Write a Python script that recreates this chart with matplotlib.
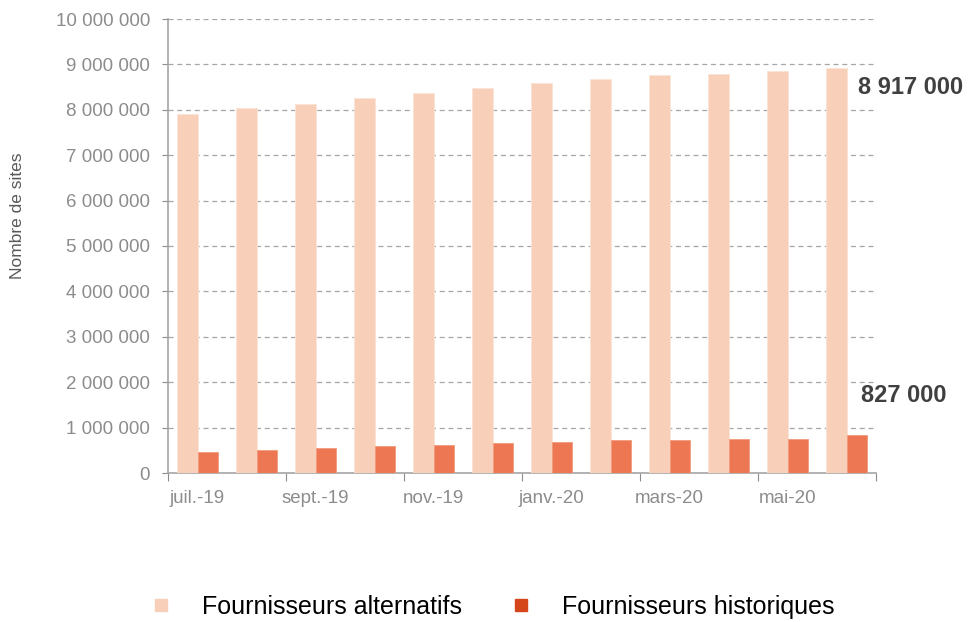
"""Nombre de sites : fournisseurs alternatifs vs historiques (juil.-19 a juin-20)."""
import numpy as np
import matplotlib
matplotlib.use('Agg')
import matplotlib.pyplot as plt
from matplotlib.lines import Line2D
from matplotlib.ticker import FuncFormatter

plt.rcParams.update({
    'font.family': ['Liberation Sans', 'DejaVu Sans'],
    'font.size': 13,
})

months = ['juil.-19', 'août-19', 'sept.-19', 'oct.-19', 'nov.-19', 'déc.-19',
          'janv.-20', 'févr.-20', 'mars-20', 'avr.-20', 'mai-20', 'juin-20']
alternatifs = [7910000, 8030000, 8130000, 8250000, 8370000, 8470000,
               8580000, 8680000, 8770000, 8780000, 8850000, 8917000]
historiques = [465000, 509000, 548000, 587000, 624000, 661000,
               689000, 726000, 726000, 747000, 747000, 827000]
series_names = ['Fournisseurs alternatifs', 'Fournisseurs historiques']

C_ALT = '#f8cfb8'
C_HIST = '#ec7752'
C_HIST_LEG = '#d5461b'
GRAY = '#8c8c8c'

fig = plt.figure(figsize=(9.69, 6.22), dpi=100)
ax = fig.add_axes([168 / 969, 1 - 473 / 622, 708 / 969, 454 / 622])

x = np.arange(len(months))
w = 0.34
ax.bar(x - w / 2, alternatifs, width=w, color=C_ALT, edgecolor='#fbe3d6', linewidth=0.6, zorder=3)
ax.bar(x + w / 2, historiques, width=w, color=C_HIST, edgecolor='#f29a7c', linewidth=0.6, zorder=3)

ax.set_xlim(-0.5, len(months) - 0.5)
ax.set_ylim(0, 10_000_000)
ax.set_yticks(np.arange(0, 10_000_001, 1_000_000))
ax.yaxis.set_major_formatter(FuncFormatter(lambda v, p: f'{int(v):,}'.replace(',', ' ')))
ax.yaxis.grid(True, linestyle=(0, (4, 3)), color='#a6a6a6', linewidth=0.9, zorder=0)

# ticks at group boundaries every two months, labels centred on the month
ax.set_xticks(np.arange(-0.5, len(months), 2))
ax.set_xticklabels([])
ax.set_xticks(x[::2], minor=True)
ax.set_xticklabels(months[::2], minor=True)
ax.tick_params(axis='x', which='major', length=6, color=GRAY)
ax.tick_params(axis='x', which='minor', length=0, pad=12, labelcolor=GRAY, labelsize=13.5)
ax.tick_params(axis='y', length=4, color=GRAY, pad=9, labelcolor=GRAY, labelsize=13.5)

for s in ['top', 'right']:
    ax.spines[s].set_visible(False)
for s in ['left', 'bottom']:
    ax.spines[s].set_color('#a6a6a6')
    ax.spines[s].set_linewidth(1.2)

fmt = lambda v: f'{v:,}'.replace(',', ' ')
ax.text(11.2, alternatifs[-1] - 430000, fmt(alternatifs[-1]), ha='left', va='center',
        fontsize=17, fontweight='bold', color='#404040', clip_on=False)
ax.text(11.25, historiques[-1] + 890000, fmt(historiques[-1]), ha='left', va='center',
        fontsize=17, fontweight='bold', color='#404040', clip_on=False)

fig.text(18 / 969, 1 - 216 / 622, 'Nombre de sites', rotation=90, ha='center', va='center',
         fontsize=12.5, color='#595959')

handles = [Line2D([], [], marker='s', linestyle='none', markersize=9, color=C_ALT),
           Line2D([], [], marker='s', linestyle='none', markersize=9, color=C_HIST_LEG)]
fig.legend(handles, series_names, loc='center', bbox_to_anchor=(0.507, 1 - 607 / 622),
           ncol=2, frameon=False, fontsize=18, handletextpad=1.14, columnspacing=1.86,
           handlelength=1.0)

fig.savefig('out.png', dpi=100)
